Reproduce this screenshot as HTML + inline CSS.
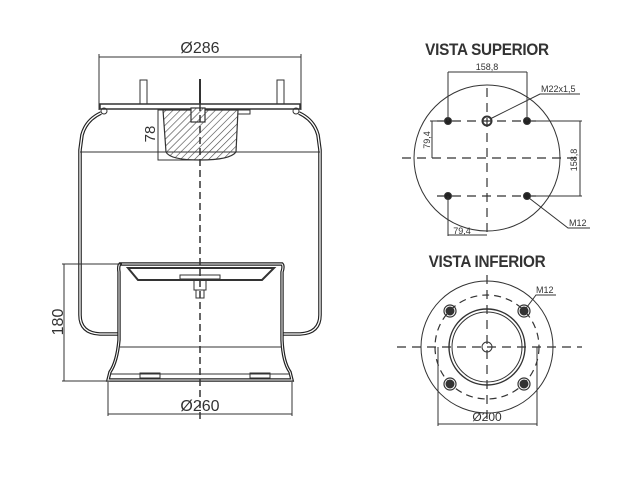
<!DOCTYPE html>
<html><head><meta charset="utf-8"><style>
html,body{margin:0;padding:0;background:#fff;width:640px;height:480px;overflow:hidden}
svg{display:block}
text{font-family:"Liberation Sans",sans-serif;fill:#333}
</style></head><body>
<svg width="640" height="480" viewBox="0 0 640 480" xmlns="http://www.w3.org/2000/svg">
<defs>
<pattern id="h" width="5" height="5" patternUnits="userSpaceOnUse" patternTransform="rotate(45)">
<line x1="0" y1="0" x2="0" y2="5" stroke="#444" stroke-width="1.2"/></pattern>
</defs>
<g fill="none" stroke="#333" stroke-width="1">
<line x1="99" y1="57" x2="301" y2="57"/>
<line x1="99" y1="54" x2="99" y2="110"/>
<line x1="301" y1="54" x2="301" y2="110"/>
<rect x="100" y="104" width="200" height="5" stroke-width="1.5"/>
<rect x="140" y="80" width="7" height="24"/>
<rect x="277" y="80" width="7" height="24"/>
<line x1="200" y1="79" x2="200" y2="104" stroke-width="2"/>
<circle cx="104" cy="111" r="3"/><circle cx="296" cy="111" r="3"/>
<path d="M101 113 Q86 120 82 135 L80 150 L80 315 Q80 333 100 334 L120 334" stroke="#222" stroke-width="3.6"/>
<path d="M101 113 Q86 120 82 135 L80 150 L80 315 Q80 333 100 334 L120 334" stroke="#fff" stroke-width="1.3"/>
<path d="M299 113 Q314 120 318 135 L320 150 L320 315 Q320 333 300 334 L282 334" stroke="#222" stroke-width="3.6"/>
<path d="M299 113 Q314 120 318 135 L320 150 L320 315 Q320 333 300 334 L282 334" stroke="#fff" stroke-width="1.3"/>
<line x1="80" y1="152" x2="320" y2="152"/>
<path d="M163 110 L238 110 L236 152 Q230 160 200 160 Q170 160 166 152 Z" fill="url(#h)" stroke-width="1.2"/>
<rect x="191" y="108" width="14" height="14" fill="#fff" stroke-width="1.2"/>
<rect x="191" y="108" width="14" height="14" fill="url(#h)"/>
<path d="M238 110 L250 110 L250 114 L238 114"/>
<polyline points="163,110 158,110 158,160 200,160"/>
<path d="M120 264 L282 264 Q284 266 282 272 L282 340 Q283 362 290 372 L292 380 L108 380 L110 372 Q117 362 119 340 L119 272 Q118 266 120 264 Z" stroke="#222" stroke-width="3.4"/>
<path d="M120 264 L282 264 Q284 266 282 272 L282 340 Q283 362 290 372 L292 380 L108 380 L110 372 Q117 362 119 340 L119 272 Q118 266 120 264 Z" stroke="#fff" stroke-width="1"/>
<path d="M128 268 L274 268 L262 280 L138 280 Z" stroke-width="2"/>
<line x1="120" y1="347" x2="282" y2="347"/>
<line x1="110" y1="374" x2="290" y2="374"/>
<rect x="140" y="373" width="20" height="5"/><rect x="250" y="373" width="20" height="5"/>
<rect x="180" y="275" width="40" height="4"/>
<rect x="194" y="280" width="12" height="10"/><rect x="196" y="290" width="8" height="8"/>
<line x1="64" y1="264" x2="64" y2="381"/>
<line x1="62" y1="264" x2="122" y2="264"/>
<line x1="62" y1="381" x2="110" y2="381"/>
<line x1="108" y1="382" x2="108" y2="416"/>
<line x1="292" y1="382" x2="292" y2="416"/>
<line x1="108" y1="414" x2="292" y2="414"/>
<line x1="200" y1="82" x2="200" y2="422" stroke-dasharray="7,4" stroke-width="1.5"/>

<circle cx="487" cy="158" r="73"/>
<g stroke-dasharray="9,6" stroke-width="1.2">
<line x1="402" y1="158" x2="580" y2="158"/>
<line x1="487" y1="88" x2="487" y2="235"/>
<line x1="437" y1="121" x2="540" y2="121"/>
<line x1="437" y1="196" x2="540" y2="196"/>
</g>
<g fill="#222"><circle cx="448" cy="121" r="3.5"/><circle cx="527" cy="121" r="3.5"/><circle cx="448" cy="196" r="3.5"/><circle cx="527" cy="196" r="3.5"/></g>
<circle cx="487" cy="121" r="4.5" stroke-width="2"/>
<line x1="448" y1="72" x2="527" y2="72"/>
<line x1="448" y1="72" x2="448" y2="121"/><line x1="527" y1="72" x2="527" y2="121"/>
<line x1="580" y1="121" x2="580" y2="196"/>
<line x1="530" y1="121" x2="582" y2="121"/><line x1="530" y1="196" x2="582" y2="196"/>
<line x1="432" y1="121" x2="432" y2="158"/>
<line x1="430" y1="121" x2="446" y2="121"/>
<line x1="448" y1="196" x2="448" y2="236"/>
<line x1="448" y1="235" x2="487" y2="235"/>
<polyline points="490,119 540,94 580,94"/>
<polyline points="529,198 568,228 590,228"/>

<circle cx="487" cy="347" r="66"/>
<circle cx="487" cy="347" r="52" stroke-dasharray="7,5" stroke-width="1.2"/>
<circle cx="487" cy="347" r="38" stroke-width="1.4"/>
<circle cx="487" cy="347" r="35"/>
<circle cx="487" cy="347" r="5"/>
<g stroke-dasharray="9,6" stroke-width="1.2">
<line x1="397" y1="347" x2="582" y2="347"/>
<line x1="487" y1="275" x2="487" y2="420"/>
</g>
<g fill="#333"><circle cx="450" cy="311" r="4"/><circle cx="524" cy="311" r="4"/><circle cx="450" cy="384" r="4"/><circle cx="524" cy="384" r="4"/></g>
<g stroke-width="1.2"><circle cx="450" cy="311" r="6"/><circle cx="524" cy="311" r="6"/><circle cx="450" cy="384" r="6"/><circle cx="524" cy="384" r="6"/></g>
<line x1="438" y1="347" x2="438" y2="426"/>
<line x1="537" y1="347" x2="537" y2="426"/>
<line x1="438" y1="424" x2="537" y2="424"/>
<polyline points="524,311 536,295 556,295"/>
</g>
<g font-size="15">
<text x="200" y="53" text-anchor="middle" font-size="16">Ø286</text>
<text x="200" y="411" text-anchor="middle" font-size="16">Ø260</text>
<text transform="translate(155,134) rotate(-90)" text-anchor="middle">78</text>
<text transform="translate(63,322) rotate(-90)" text-anchor="middle" font-size="16">180</text>
</g>
<text x="487" y="55" text-anchor="middle" font-size="17" font-weight="bold" transform="translate(487,0) scale(0.9,1) translate(-487,0)" style="letter-spacing:-0.3px">VISTA SUPERIOR</text>
<text x="487" y="267" text-anchor="middle" font-size="17" font-weight="bold" transform="translate(487,0) scale(0.9,1) translate(-487,0)" style="letter-spacing:-0.3px">VISTA INFERIOR</text>
<g font-size="9">
<text x="487" y="70" text-anchor="middle">158,8</text>
<text x="541" y="92">M22x1,5</text>
<text x="569" y="226">M12</text>
<text x="462" y="234" text-anchor="middle">79,4</text>
<text transform="translate(430,140) rotate(-90)" text-anchor="middle">79,4</text>
<text transform="translate(577,160) rotate(-90)" text-anchor="middle">158,8</text>
<text x="536" y="293">M12</text>
</g>
<text x="487" y="421" text-anchor="middle" font-size="12">Ø200</text>
</svg>
</body></html>
